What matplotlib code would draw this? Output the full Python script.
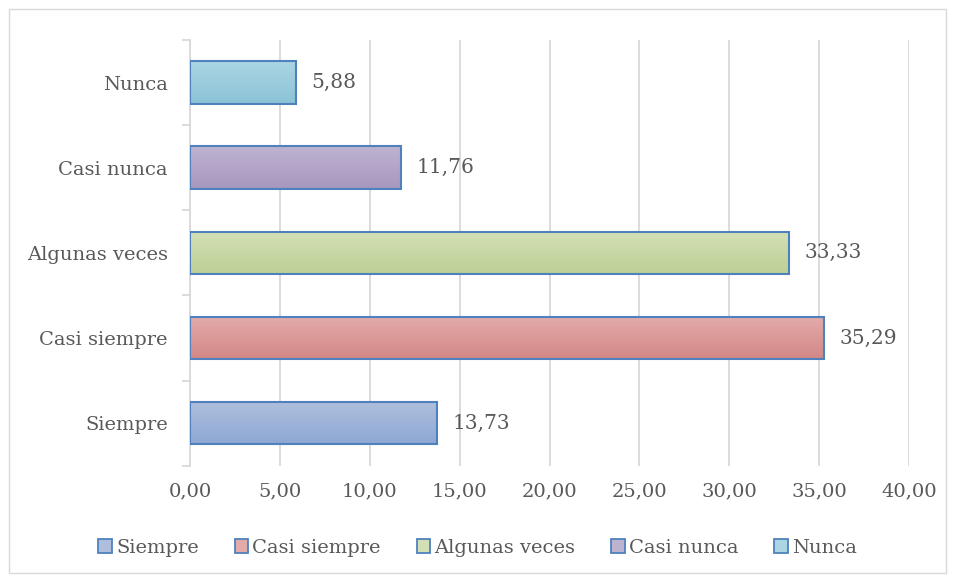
import numpy as np
import matplotlib.pyplot as plt
from matplotlib.patches import Patch, Rectangle
from matplotlib.colors import LinearSegmentedColormap

# Datos
categorias = ['Siempre', 'Casi siempre', 'Algunas veces', 'Casi nunca', 'Nunca']
valores = [13.73, 35.29, 33.33, 11.76, 5.88]
xticks = [0, 5, 10, 15, 20, 25, 30, 35, 40]

# Colores (arriba, abajo) para el degradado de cada barra
colores_top = ['#AEBFDD', '#E2ABAA', '#D3E0B5', '#BEB3CF', '#ABD5E2']
colores_bot = ['#8EA8D4', '#D38886', '#BCD096', '#A797BF', '#8BC3D7']
borde = '#4F81BD'
gris = '#595959'

plt.rcParams['font.family'] = ['DejaVu Serif']

fig = plt.figure(figsize=(9.55, 5.8), dpi=100)
ax = fig.add_axes([0.199, 0.197, 0.753, 0.734])

y = np.arange(len(categorias))
alto = 0.5
for i, (v, ct, cb) in enumerate(zip(valores, colores_top, colores_bot)):
    cmap = LinearSegmentedColormap.from_list('g%d' % i, [cb, ct])
    grad = np.linspace(0, 1, 64).reshape(-1, 1)
    img = ax.imshow(grad, cmap=cmap, aspect='auto', origin='lower',
                    extent=[0, v, i - alto / 2, i + alto / 2], zorder=2)
    rect = Rectangle((0, i - alto / 2), v, alto, facecolor='none',
                     edgecolor=borde, linewidth=1.5, zorder=3)
    ax.add_patch(rect)
    img.set_clip_path(rect)
    ax.text(v + 0.85, i, f'{v:.2f}'.replace('.', ','), va='center', ha='left',
            fontsize=14.5, color=gris)

ax.set_xlim(0, 40)
ax.set_ylim(-0.5, len(categorias) - 0.5)
ax.set_xticks(xticks)
ax.set_xticklabels([f'{t:.2f}'.replace('.', ',') for t in xticks])
ax.set_yticks(y)
ax.set_yticklabels(categorias)
ax.set_yticks(np.arange(-0.5, len(categorias)), minor=True)

ax.grid(axis='x', color='#D9D9D9', linewidth=1.3, zorder=0)
ax.set_axisbelow(True)
for s in ['top', 'right', 'bottom']:
    ax.spines[s].set_visible(False)
ax.spines['left'].set_color('#D9D9D9')
ax.spines['left'].set_linewidth(1.3)

ax.tick_params(axis='x', length=0, pad=12, labelsize=14, labelcolor=gris)
ax.tick_params(axis='y', which='major', length=0, pad=16, labelsize=14, labelcolor=gris)
ax.tick_params(axis='y', which='minor', length=6, color='#D9D9D9', width=1.3)

handles = [Patch(facecolor=ct, edgecolor=borde, linewidth=1.3, label=c)
           for c, ct in zip(categorias, colores_top)]
fig.legend(handles=handles, loc='center', bbox_to_anchor=(0.5, 0.055), ncol=5,
           frameon=False, fontsize=14, handlelength=0.7, handleheight=0.7,
           handletextpad=0.2, columnspacing=1.85, labelcolor=gris)

# Marco exterior
fig.patches.append(Rectangle((0.009, 0.012), 0.982, 0.972, transform=fig.transFigure,
                             fill=False, edgecolor='#D9D9D9', linewidth=1))

fig.savefig('out.png', dpi=100)
